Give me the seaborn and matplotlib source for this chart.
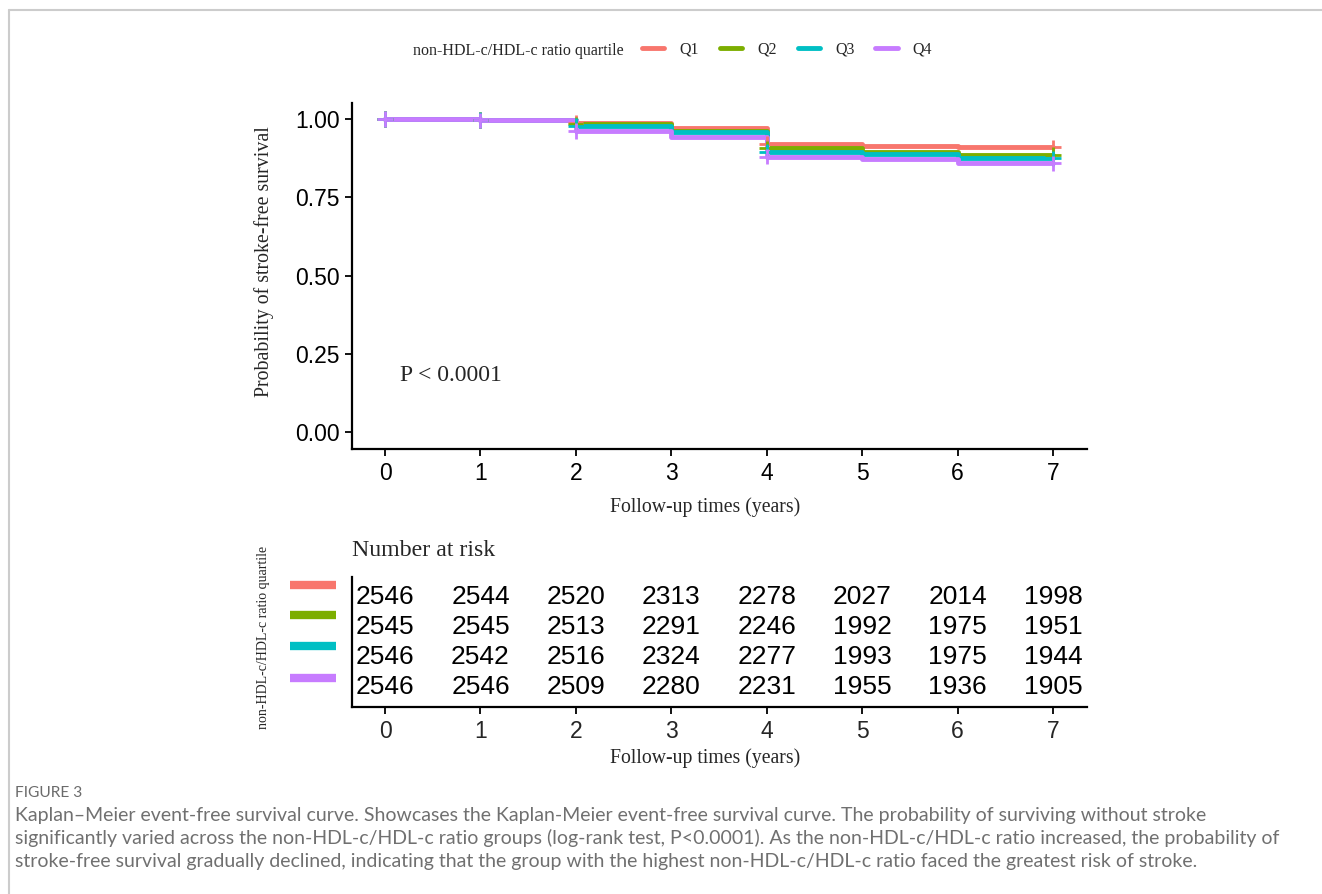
import numpy as np
import pandas as pd
import matplotlib
matplotlib.use("Agg")
import matplotlib.pyplot as plt
import seaborn as sns
from matplotlib.lines import Line2D

# ---------------- data ----------------
groups = ["Q1", "Q2", "Q3", "Q4"]
colors = ["#F8766D", "#7CAE00", "#00BFC4", "#C77CFF"]
times = [0, 1, 2, 3, 4, 5, 6, 7]
surv_q1 = [1.000, 0.997, 0.988, 0.970, 0.921, 0.915, 0.910, 0.910]
surv_q2 = [1.000, 0.997, 0.983, 0.962, 0.906, 0.895, 0.885, 0.885]
surv_q3 = [1.000, 0.997, 0.978, 0.959, 0.895, 0.889, 0.874, 0.874]
surv_q4 = [1.000, 0.996, 0.962, 0.941, 0.880, 0.872, 0.858, 0.858]
censor_times = [0, 1, 2, 4, 7]
risk_q1 = [2546, 2544, 2520, 2313, 2278, 2027, 2014, 1998]
risk_q2 = [2545, 2545, 2513, 2291, 2246, 1992, 1975, 1951]
risk_q3 = [2546, 2542, 2516, 2324, 2277, 1993, 1975, 1944]
risk_q4 = [2546, 2546, 2509, 2280, 2231, 1955, 1936, 1905]
y_ticks = [0.00, 0.25, 0.50, 0.75, 1.00]
y_ticklabels = ["0.00", "0.25", "0.50", "0.75", "1.00"]
legend_title = "non-HDL-c/HDL-c ratio quartile"
caption_head = "FIGURE 3"
caption_lines = [
    "Kaplan\u2013Meier event-free survival curve. Showcases the Kaplan-Meier event-free survival curve. The probability of surviving without stroke",
    "significantly varied across the non-HDL-c/HDL-c ratio groups (log-rank test, P<0.0001). As the non-HDL-c/HDL-c ratio increased, the probability of",
    "stroke-free survival gradually declined, indicating that the group with the highest non-HDL-c/HDL-c ratio faced the greatest risk of stroke.",
]

survs = [surv_q1, surv_q2, surv_q3, surv_q4]
risks = [risk_q1, risk_q2, risk_q3, risk_q4]

df = pd.DataFrame({
    "time": np.tile(times, 4),
    "surv": np.concatenate(survs),
    "group": np.repeat(groups, len(times)),
})
cens = df[df["time"].isin(censor_times)]

# ---------------- style ----------------
sns.set_style("ticks")
plt.rcParams["font.family"] = ["Liberation Sans", "DejaVu Sans"]
SERIF = ["Liberation Serif", "DejaVu Serif"]

W, H = 1322, 894
fig = plt.figure(figsize=(W / 100, H / 100), dpi=100)

def fx(px):
    return px / W

def fy(py):
    return 1 - py / H

palette = dict(zip(groups, colors))

# ---------------- main KM axes ----------------
ax = fig.add_axes([fx(352), fy(449), fx(1087) - fx(352), fy(103) - fy(449)])
sns.lineplot(data=df, x="time", y="surv", hue="group", palette=palette,
             drawstyle="steps-post", linewidth=3.5, errorbar=None,
             legend=False, ax=ax)
sns.scatterplot(data=cens, x="time", y="surv", hue="group", palette=palette,
                marker="+", s=120, linewidth=2.0, legend=False, ax=ax, zorder=5)
ax.set_xlim(-0.346, 7.356)
ax.set_ylim(-0.053, 1.051)
ax.set_xticks(times)
ax.set_yticks(y_ticks)
ax.set_yticklabels(y_ticklabels)
for s in ["top", "right"]:
    ax.spines[s].set_visible(False)
for s in ["left", "bottom"]:
    ax.spines[s].set_linewidth(1.6)
    ax.spines[s].set_color("black")
ax.tick_params(axis="both", length=5, width=1.3, color="black",
               labelsize=16.5, labelcolor="black", pad=4)
ax.set_xlabel("Follow-up times (years)", family=SERIF, fontsize=14.2)
ax.xaxis.set_label_coords((705 - 352) / 735, -0.14)
ax.set_ylabel("Probability of stroke-free survival", family=SERIF, fontsize=14.3)
ax.yaxis.set_label_coords(-0.106, (449 - 262) / 346)
ax.text(0.157, 0.183, "P < 0.0001", family=SERIF, fontsize=17, ha="left", va="center")

# ---------------- legend ----------------
fig.text(fx(413), fy(51), legend_title, family=SERIF, fontsize=11.5, ha="left", va="center")
handles = [Line2D([0], [0], color=c, lw=3.5) for c in colors]
fig.legend(handles, groups, ncol=4, loc="center left",
           bbox_to_anchor=(fx(642), fy(50)), frameon=False,
           prop={"family": SERIF, "size": 11.5}, handlelength=1.4,
           handletextpad=0.95, columnspacing=1.3, borderpad=0, borderaxespad=0)

# ---------------- risk table ----------------
axr = fig.add_axes([fx(352), fy(707), fx(1087) - fx(352), fy(577) - fy(707)])
axr.set_xlim(-0.346, 7.356)
axr.set_ylim(0.35, 4.65)
for i, r in enumerate(risks):
    yrow = 4 - i
    for t, n in zip(times, r):
        axr.text(t, yrow, str(n), ha="center", va="center", fontsize=19, color="black")
axr.set_xticks(times)
axr.set_yticks([])
for s in ["top", "right"]:
    axr.spines[s].set_visible(False)
for s in ["left", "bottom"]:
    axr.spines[s].set_linewidth(1.6)
    axr.spines[s].set_color("black")
axr.tick_params(axis="x", length=5, width=1.3, color="black", labelsize=16.5, pad=4)
axr.set_xlabel("Follow-up times (years)", family=SERIF, fontsize=14.2)
axr.xaxis.set_label_coords((705 - 352) / 735, -0.32)
fig.text(fx(352), fy(551), "Number at risk", family=SERIF, fontsize=17.2, ha="left", va="center")
fig.text(fx(263), fy(637), legend_title, family=SERIF, fontsize=10,
         rotation=90, ha="center", va="center")
for c, py in zip(colors, [585, 615, 646, 678]):
    fig.add_artist(Line2D([fx(290), fx(336)], [fy(py), fy(py)], color=c, lw=6,
                          transform=fig.transFigure, solid_capstyle="butt"))

# ---------------- frame + caption ----------------
fig.add_artist(Line2D([fx(9), 1.0], [fy(10), fy(10)], color="#cccccc", lw=1.5,
                      transform=fig.transFigure))
fig.add_artist(Line2D([fx(9), fx(9)], [fy(10), 0.0], color="#cccccc", lw=1.5,
                      transform=fig.transFigure))
CAP = ["Lato", "DejaVu Sans"]
fig.text(fx(15), fy(793), caption_head, family=CAP, fontsize=11.2, color="#6b6b6b",
         ha="left", va="center")
for line, py in zip(caption_lines, [815, 838, 861]):
    fig.text(fx(15), fy(py), line, family=CAP, fontsize=14.0, color="#707070",
             ha="left", va="center")

fig.savefig("out.png", dpi=100)
